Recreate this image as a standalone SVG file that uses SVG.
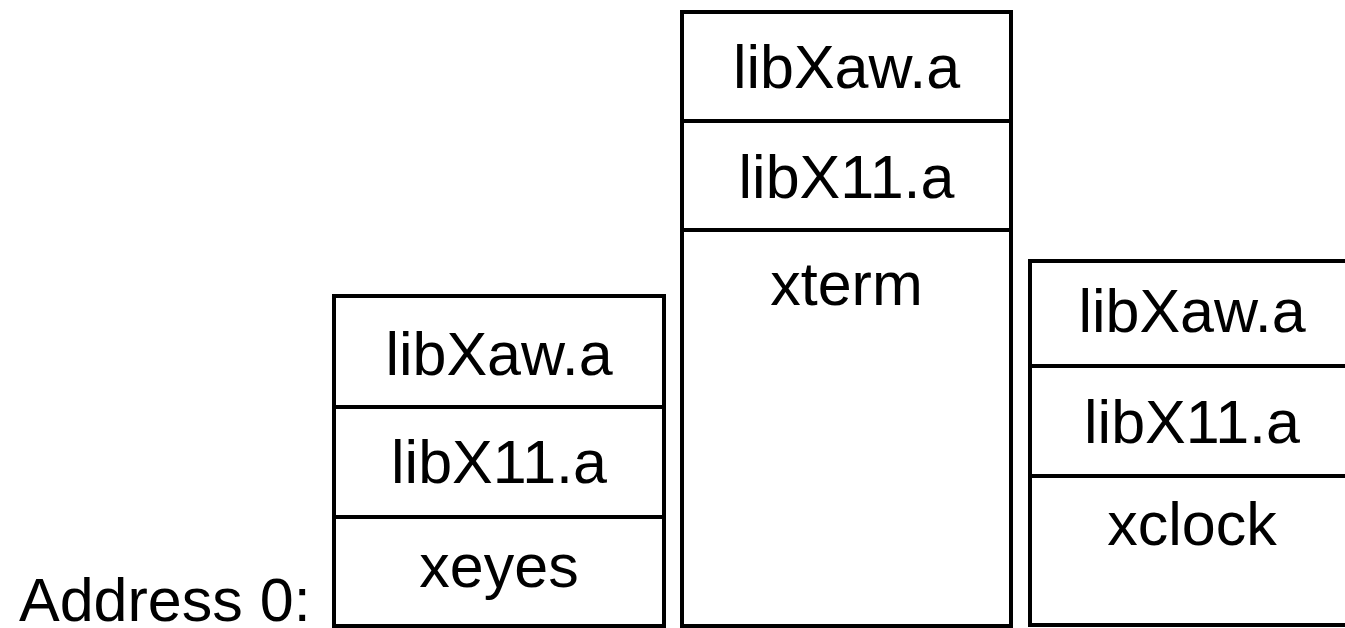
<svg xmlns="http://www.w3.org/2000/svg" width="1345" height="628" viewBox="0 0 1345 628">
<style>
.c{fill:#fff;stroke:#000;stroke-width:4}
.t{font-family:"Liberation Sans",Arial,sans-serif;font-size:61px;fill:#000;text-anchor:middle}
.l{font-family:"Liberation Sans",Arial,sans-serif;font-size:61px;fill:#000}
</style>
<rect width="1345" height="628" fill="#fff"/>
<g id="label-address">
<text class="l" x="19" y="621">Address 0:</text>
</g>
<g id="xeyes-stack">
<rect class="c" x="334" y="296" width="330" height="111"/>
<rect class="c" x="334" y="407" width="330" height="110"/>
<rect class="c" x="334" y="517" width="330" height="109"/>
<text class="t" x="499" y="375">libXaw.a</text>
<text class="t" x="499" y="483">libX11.a</text>
<text class="t" x="499" y="587">xeyes</text>
</g>
<g id="xterm-stack">
<rect class="c" x="682" y="12" width="329" height="109"/>
<rect class="c" x="682" y="121" width="329" height="109"/>
<rect class="c" x="682" y="230" width="329" height="396"/>
<text class="t" x="846.5" y="88">libXaw.a</text>
<text class="t" x="846.5" y="198">libX11.a</text>
<text class="t" x="846.5" y="305">xterm</text>
</g>
<g id="xclock-stack">
<rect class="c" x="1030" y="261" width="330" height="105"/>
<rect class="c" x="1030" y="366" width="330" height="110"/>
<rect class="c" x="1030" y="476" width="330" height="149"/>
<text class="t" x="1192" y="332">libXaw.a</text>
<text class="t" x="1192" y="443">libX11.a</text>
<text class="t" x="1192" y="545">xclock</text>
</g>
<g id="connectors"></g>
</svg>
